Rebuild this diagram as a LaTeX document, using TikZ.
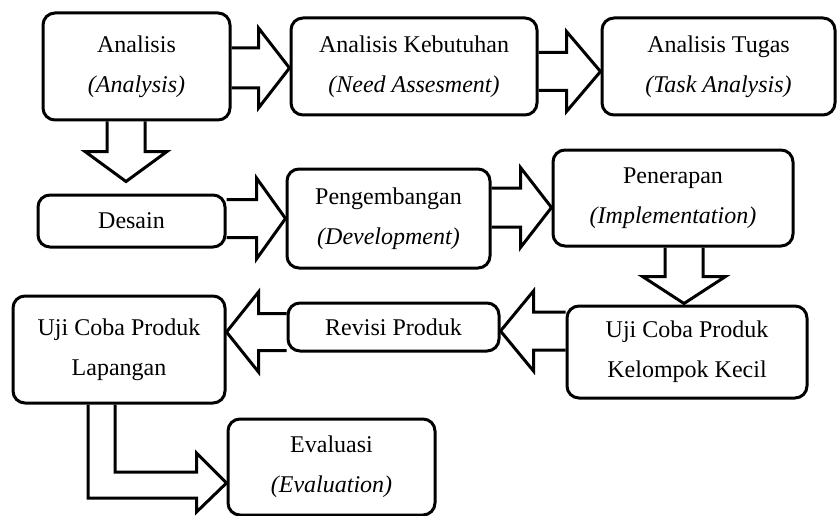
\documentclass[tikz,border=0pt]{standalone}
\usepackage{fontspec}
\setmainfont{Liberation Serif}
\usetikzlibrary{calc}
\tikzset{
  box/.style={draw, line width=3pt, rounded corners=12pt, inner sep=0pt, align=center,
    font=\fontsize{24}{40}\selectfont},
  blk/.style={draw, line width=3pt, line join=miter}
}
\newcommand{\harrow}[5]{%
  \draw[blk] let \p1=#1, \p2=#2 in
  ({\x1},{\y2+#3pt}) -- ({\x2-(#5pt)},{\y2+#3pt}) -- ({\x2-(#5pt)},{\y2+#4pt}) -- (\p2)
  -- ({\x2-(#5pt)},{\y2-#4pt}) -- ({\x2-(#5pt)},{\y2-#3pt}) -- ({\x1},{\y2-#3pt});}
\newcommand{\varrow}[5]{%
  \draw[blk] let \p1=#1, \p2=#2 in
  ({\x2-#3pt},{\y1}) -- ({\x2-#3pt},{\y2+#5pt}) -- ({\x2-#4pt},{\y2+#5pt}) -- (\p2)
  -- ({\x2+#4pt},{\y2+#5pt}) -- ({\x2+#3pt},{\y2+#5pt}) -- ({\x2+#3pt},{\y1});}
\begin{document}
\begin{tikzpicture}[x=1pt,y=-1pt]
\useasboundingbox (0,0) rectangle (837,516);
\node[box, minimum width=187pt, minimum height=107pt] (A) at (136.5,66.5) {Analisis\\\textit{(Analysis)}};
\node[box, minimum width=246pt, minimum height=97pt] (K) at (414,66.5) {Analisis Kebutuhan\\\textit{(Need Assesment)}};
\node[box, minimum width=233pt, minimum height=97pt] (T) at (718.5,66.5) {Analisis Tugas\\\textit{(Task Analysis)}};
\node[box, minimum width=187pt, minimum height=52pt] (D) at (131.5,221) {Desain};
\node[box, minimum width=203pt, minimum height=99pt] (P) at (388.5,218.5) {Pengembangan\\\textit{(Development)}};
\node[box, minimum width=240pt, minimum height=96pt] (I) at (673,198) {Penerapan\\\textit{(Implementation)}};
\node[box, minimum width=240pt, minimum height=92pt] (KK) at (687,352) {Uji Coba Produk\\Kelompok Kecil};
\node[box, minimum width=211pt, minimum height=48pt] (R) at (393.5,327) {Revisi Produk};
\node[box, minimum width=212pt, minimum height=107pt] (L) at (119,349.5) {Uji Coba Produk\\Lapangan};
\node[box, minimum width=207pt, minimum height=96pt] (E) at (331.5,467) {Evaluasi\\\textit{(Evaluation)}};

\harrow{(A.east)}{($(K.west)+(0,1.5)$)}{20}{40}{31}
\harrow{(K.east)}{($(T.west)+(0,5)$)}{19}{40}{34}
\varrow{(A.south)}{($(D.north)+(-5.5,-12)$)}{19}{41}{30}
\harrow{(D.east)}{(P.west)}{19}{40.5}{29}
\harrow{(P.east)}{($(I.west)+(0,9.5)$)}{19.5}{40}{31}
\varrow{(I.south)}{($(KK.north)+(-3,-1)$)}{19}{41.5}{27}
\harrow{(KK.west)}{($(R.east)+(0,4)$)}{19}{40}{-33}
\harrow{(R.west)}{($(L.east)+(0,-17.5)$)}{18.5}{40}{-32}
\draw[blk] ($(L.south)+(-31,0)$) |- ($(E.west)+(-30,31)$) -- ($(E.west)+(-30,45)$)
  -- ($(E.west)+(0,16)$) -- ($(E.west)+(-30,-14)$) -- ($(E.west)+(-30,5)$)
  -| ($(L.south)+(-4,0)$);
\end{tikzpicture}
\end{document}
